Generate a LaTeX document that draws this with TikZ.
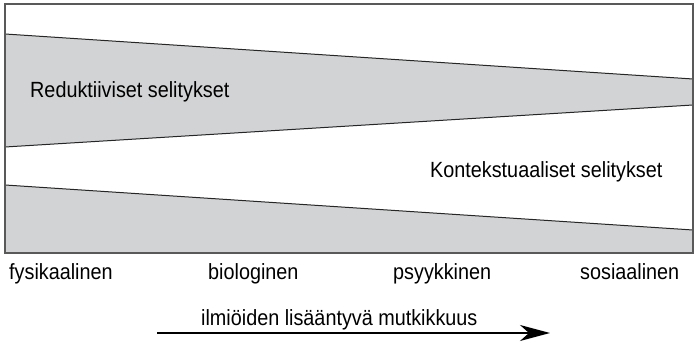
\documentclass[tikz,border=0pt]{standalone}
\usepackage{fontspec}
\setmainfont{Liberation Sans}[FakeStretch=0.9]
\usetikzlibrary{arrows.meta,positioning}
\definecolor{wedgegray}{HTML}{D1D3D4}

\begin{document}
\begin{tikzpicture}[x=1pt, y=-1pt, every node/.style={font=\fontsize{22}{26}\selectfont, inner sep=0pt},
		edge/.style={line width=1pt, black!85},
		band/.style={fill=wedgegray}]
			\useasboundingbox (0,0) rectangle (694,344);
			% kaistat
			\fill[band] (5,34) -- (693,79) -- (693,105) -- (5,147) -- cycle;
			\fill[band] (5,185) -- (693,230) -- (693,253) -- (5,253) -- cycle;
			\draw[edge] (5,34) -- (693,79);
			\draw[edge] (5,147) -- (693,105);
			\draw[edge] (5,185) -- (693,230);
			\draw[line width=1.6pt, black!65] (5,4) rectangle (693,253);
			
			\node[anchor=base west] (redu) at (30,98) {Reduktiiviset selitykset};
			\node[anchor=base west] (kont) at (430,178) {Kontekstuaaliset selitykset};
			
			% tasot
			\node[anchor=base west] (fys) at (9,280) {fysikaalinen};
			\node[anchor=base west] (bio) at (208,280) {biologinen};
			\node[anchor=base west] (psy) at (393,280) {psyykkinen};
			\node[anchor=base west] (sos) at (580,280) {sosiaalinen};
			
			\node[anchor=base west] (mutk) at (201,326) {ilmiöiden lisääntyvä mutkikkuus};
			\coordinate (ar1) at (157,333);
			\coordinate (ar2) at (550,333);
			\draw[line width=1.2pt, -{Stealth[length=30pt, width=16pt, inset=9pt]}] (ar1) -- (ar2);
		\end{tikzpicture}
\end{document}
